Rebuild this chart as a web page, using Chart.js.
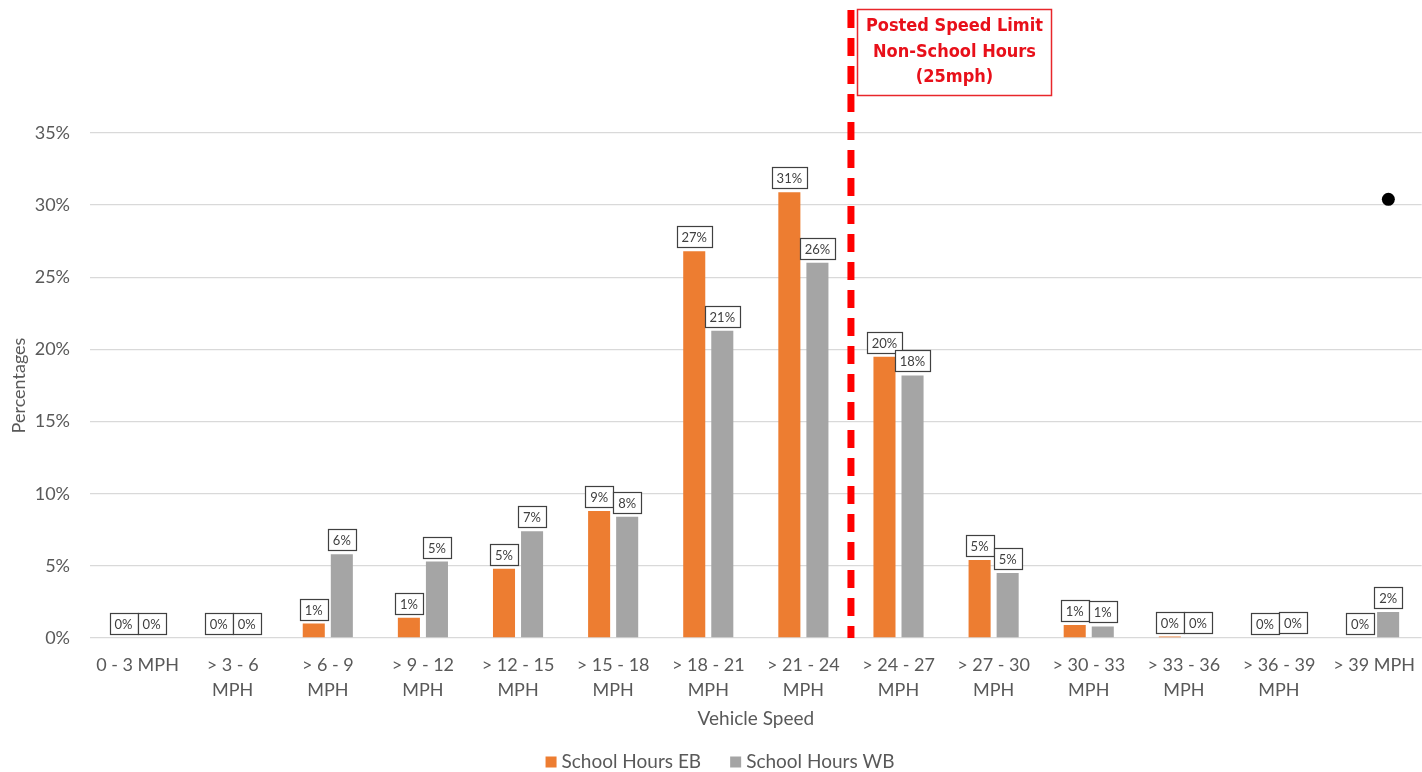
<!DOCTYPE html>
<html>
<head>
<meta charset="utf-8">
<title>Vehicle Speed – School Hours</title>
<script src="https://cdn.jsdelivr.net/npm/chart.js@4/dist/chart.umd.min.js"></script>
<style>
  html, body { margin: 0; padding: 0; background: #ffffff; overflow: hidden; }
  #wrap { width: 1422px; height: 772px; position: relative; }
</style>
</head>
<body>
<div id="wrap"><canvas id="speedChart" width="1422" height="772"></canvas></div>
<script>
// Speed bins
const speedBins = [
  ['0 - 3 MPH'], ['> 3 - 6', 'MPH'], ['> 6 - 9', 'MPH'], ['> 9 - 12', 'MPH'],
  ['> 12 - 15', 'MPH'], ['> 15 - 18', 'MPH'], ['> 18 - 21', 'MPH'], ['> 21 - 24', 'MPH'],
  ['> 24 - 27', 'MPH'], ['> 27 - 30', 'MPH'], ['> 30 - 33', 'MPH'], ['> 33 - 36', 'MPH'],
  ['> 36 - 39', 'MPH'], ['> 39 MPH']
];

// Share of vehicles per bin (%)
const schoolHoursEB = [0, 0, 1.0, 1.4, 4.8, 8.8, 26.8, 30.9, 19.5, 5.4, 0.9, 0.1, 0, 0];
const schoolHoursWB = [0, 0, 5.8, 5.3, 7.4, 8.4, 21.3, 26.0, 18.2, 4.5, 0.8, 0.05, 0.05, 1.8];

// Y axis ticks
const yTicks = [0, 5, 10, 15, 20, 25, 30, 35];

// Posted limit sits between the 21-24 and 24-27 bins (bin index units)
const speedLimitPos = 7.5;
const speedLimitText = ['Posted Speed Limit', 'Non-School Hours', '(25mph)'];

// Lone marker (bin index units, percent)
const markerX = [13.15];
const markerY = [30.4];

const TEXT = '#595959';
const FONT = 'Lato, "Open Sans", sans-serif';

// Pixel for a fractional bin index on the category axis
function binPixel(scale, v) {
  const i = Math.floor(v);
  const p0 = scale.getPixelForValue(i);
  const step = scale.getPixelForValue(1) - scale.getPixelForValue(0);
  return p0 + (v - i) * step;
}

// Boxed value labels above each bar
const boxedLabels = {
  id: 'boxedLabels',
  afterDatasetsDraw(chart) {
    const ctx = chart.ctx;
    ctx.save();
    ctx.font = '13px ' + FONT;
    ctx.textAlign = 'center';
    ctx.textBaseline = 'middle';
    chart.data.datasets.forEach((ds, di) => {
      const meta = chart.getDatasetMeta(di);
      meta.data.forEach((bar, i) => {
        const txt = Math.round(ds.data[i]) + '%';
        const w = Math.round(ctx.measureText(txt).width + 10);
        const h = 21;
        const bottom = bar.y - 4;
        const x0 = Math.round(bar.x - w / 2) + 0.5;
        const y0 = Math.round(bottom - h) + 0.5;
        ctx.fillStyle = '#ffffff';
        ctx.fillRect(x0, y0, w, h);
        ctx.strokeStyle = '#404040';
        ctx.lineWidth = 1.2;
        ctx.strokeRect(x0, y0, w, h);
        ctx.fillStyle = '#404040';
        ctx.fillText(txt, bar.x, y0 + h / 2 + 0.5);
      });
    });
    ctx.restore();
  }
};

// Dashed speed-limit line with its caption box, plus the marker dot
const overlays = {
  id: 'overlays',
  afterDatasetsDraw(chart) {
    const ctx = chart.ctx;
    const xs = chart.scales.x;
    const ys = chart.scales.y;
    const x = binPixel(xs, speedLimitPos);
    const bottom = chart.chartArea.bottom;
    ctx.save();
    ctx.strokeStyle = '#ff0000';
    ctx.lineWidth = 7;
    ctx.setLineDash([18, 10]);
    ctx.beginPath();
    ctx.moveTo(x, 10);
    ctx.lineTo(x, bottom);
    ctx.stroke();
    ctx.setLineDash([]);

    const bx = Math.round(x + 6) + 0.5, by = 9.5, bw = 194, bh = 86;
    ctx.fillStyle = '#ffffff';
    ctx.fillRect(bx, by, bw, bh);
    ctx.strokeStyle = '#e8262b';
    ctx.lineWidth = 1.5;
    ctx.strokeRect(bx, by, bw, bh);

    ctx.fillStyle = '#e8101a';
    ctx.font = 'bold 18px "Liberation Sans Narrow", "DejaVu Sans Condensed", "Roboto Condensed", sans-serif';
    ctx.textAlign = 'center';
    ctx.textBaseline = 'middle';
    speedLimitText.forEach((t, k) => {
      ctx.fillText(t, bx + bw / 2, by + 17 + k * 25.5);
    });

    ctx.fillStyle = '#000000';
    markerX.forEach((mx, k) => {
      ctx.beginPath();
      ctx.arc(binPixel(xs, mx), ys.getPixelForValue(markerY[k]), 6.5, 0, Math.PI * 2);
      ctx.fill();
    });
    ctx.restore();
  }
};

// Legend row under the plot
const bottomLegend = {
  id: 'bottomLegend',
  afterDraw(chart) {
    const ctx = chart.ctx;
    const items = chart.data.datasets.map(d => ({ text: d.label, color: d.backgroundColor }));
    ctx.save();
    ctx.font = '19px ' + FONT;
    ctx.textBaseline = 'middle';
    ctx.textAlign = 'left';
    const box = 11, gapText = 5, gapItem = 29;
    const widths = items.map(it => box + gapText + ctx.measureText(it.text).width);
    const total = widths.reduce((a, b) => a + b, 0) + gapItem * (items.length - 1);
    let x = chart.width / 2 + 9 - total / 2;
    const y = 762;
    items.forEach((it, k) => {
      ctx.fillStyle = it.color;
      ctx.fillRect(x, y - box / 2, box, box);
      ctx.fillStyle = TEXT;
      ctx.fillText(it.text, x + box + gapText, y);
      x += widths[k] + gapItem;
    });
    ctx.restore();
  }
};

new Chart(document.getElementById('speedChart'), {
  type: 'bar',
  data: {
    labels: speedBins,
    datasets: [
      {
        label: 'School Hours EB',
        data: schoolHoursEB,
        backgroundColor: '#ED7D31',
        categoryPercentage: 0.59,
        barPercentage: 0.786
      },
      {
        label: 'School Hours WB',
        data: schoolHoursWB,
        backgroundColor: '#A5A5A5',
        categoryPercentage: 0.59,
        barPercentage: 0.786
      }
    ]
  },
  options: {
    responsive: false,
    animation: false,
    layout: { padding: { top: 133, left: 4, right: 0, bottom: 38 } },
    scales: {
      x: {
        type: 'category',
        grid: { display: false },
        border: { display: false },
        afterFit(scale) { scale.height = 96; },
        ticks: {
          color: TEXT,
          font: { family: FONT, size: 18, lineHeight: 1.39 },
          maxRotation: 0,
          autoSkip: false,
          padding: 7
        },
        title: {
          display: true,
          text: 'Vehicle Speed',
          color: TEXT,
          font: { family: FONT, size: 19 },
          padding: { top: 0, bottom: 4 }
        }
      },
      y: {
        min: yTicks[0],
        max: yTicks[yTicks.length - 1],
        afterBuildTicks(scale) { scale.ticks = yTicks.map(v => ({ value: v })); },
        afterFit(scale) { scale.width = 86; },
        grid: { color: '#d9d9d9', lineWidth: 1.3, drawTicks: false },
        border: { display: false },
        ticks: {
          color: TEXT,
          font: { family: FONT, size: 18 },
          padding: 20,
          callback: v => v + '%'
        },
        title: {
          display: true,
          text: 'Percentages',
          color: TEXT,
          font: { family: FONT, size: 18 },
          padding: { top: 4, bottom: 2 }
        }
      }
    },
    plugins: {
      legend: { display: false },
      tooltip: { enabled: false }
    }
  },
  plugins: [boxedLabels, overlays, bottomLegend]
});
</script>
</body>
</html>
